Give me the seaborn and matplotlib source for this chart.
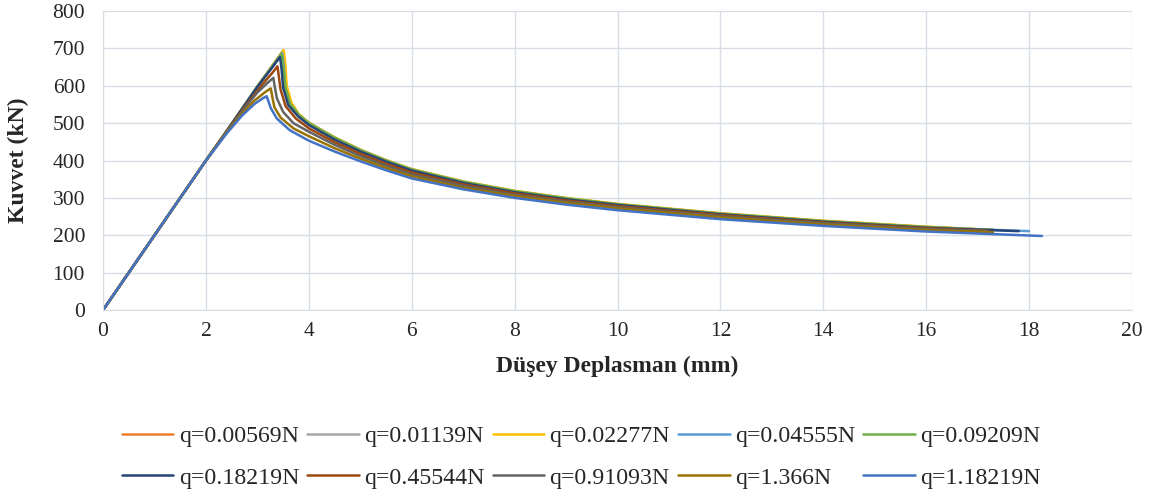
import numpy as np
import pandas as pd
import matplotlib
matplotlib.use("Agg")
import matplotlib.pyplot as plt
import seaborn as sns

labels = ["q=0.00569N", "q=0.01139N", "q=0.02277N", "q=0.04555N", "q=0.09209N",
          "q=0.18219N", "q=0.45544N", "q=0.91093N", "q=1.366N", "q=1.18219N"]
colors = ["#ED7D31", "#A5A5A5", "#FFC000", "#5B9BD5", "#70AD47",
          "#264478", "#9E480E", "#636363", "#997300", "#4472C4"]

x_s1 = [0, 2.0, 2.4, 3.0, 3.3, 3.42, 3.49, 3.52, 3.55, 3.64, 3.8, 4, 4.5, 5, 5.5, 6, 7, 8, 9, 10, 12, 14, 16, 17.3]
y_s1 = [0, 400, 478, 598, 655, 678, 692, 660, 598, 553, 523, 500, 461, 428, 400, 376, 343, 318, 299, 283, 258, 238, 222, 214]
x_s2 = [0, 2.0, 2.4, 3.0, 3.3, 3.43, 3.50, 3.53, 3.56, 3.65, 3.8, 4, 4.5, 5, 5.5, 6, 7, 8, 9, 10, 12, 14, 16, 17.3]
y_s2 = [0, 400, 478, 598, 656, 680, 694, 662, 599, 554, 524, 501, 462, 429, 401, 377, 344, 318, 299, 283, 258, 238, 222, 214]
x_s3 = [0, 2.0, 2.4, 3.0, 3.3, 3.44, 3.51, 3.54, 3.57, 3.66, 3.8, 4, 4.5, 5, 5.5, 6, 7, 8, 9, 10, 12, 14, 16, 17.3]
y_s3 = [0, 400, 478, 598, 656, 682, 696, 664, 600, 555, 525, 501, 462, 429, 401, 377, 344, 319, 300, 284, 259, 239, 223, 214]
x_s4 = [0, 2.0, 2.4, 3.0, 3.3, 3.41, 3.48, 3.51, 3.54, 3.63, 3.8, 4, 4.5, 5, 5.5, 6, 7, 8, 9, 10, 12, 14, 16, 18.0]
y_s4 = [0, 400, 478, 598, 654, 675, 688, 657, 597, 552, 522, 499, 460, 427, 399, 375, 342, 317, 298, 282, 257, 237, 221, 211]
x_s5 = [0, 2.0, 2.4, 3.0, 3.3, 3.40, 3.47, 3.50, 3.54, 3.63, 3.8, 4, 4.5, 5, 5.5, 6, 7, 8, 9, 10, 12, 14, 16, 17.3]
y_s5 = [0, 400, 478, 598, 653, 672, 685, 655, 598, 553, 523, 500, 461, 428, 400, 376, 343, 318, 299, 283, 258, 238, 222, 214]
x_s6 = [0, 2.0, 2.4, 3.0, 3.3, 3.38, 3.44, 3.47, 3.50, 3.60, 3.8, 4, 4.5, 5, 5.5, 6, 7, 8, 9, 10, 12, 14, 16, 17.8]
y_s6 = [0, 400, 478, 597, 651, 666, 677, 645, 595, 548, 517, 495, 456, 424, 397, 373, 340, 315, 296, 281, 256, 236, 220, 211]
x_s7 = [0, 2.0, 2.4, 2.8, 3.1, 3.3, 3.39, 3.42, 3.45, 3.55, 3.75, 4, 4.5, 5, 5.5, 6, 7, 8, 9, 10, 12, 14, 16, 17.2]
y_s7 = [0, 400, 477, 552, 604, 636, 652, 622, 590, 545, 512, 486, 449, 418, 391, 368, 336, 312, 293, 278, 254, 234, 219, 212]
x_s8 = [0, 2.0, 2.4, 2.75, 3.0, 3.2, 3.31, 3.34, 3.38, 3.5, 3.7, 4, 4.5, 5, 5.5, 6, 7, 8, 9, 10, 12, 14, 16, 17.2]
y_s8 = [0, 400, 476, 540, 582, 608, 621, 595, 566, 530, 500, 477, 442, 412, 386, 363, 332, 308, 290, 275, 251, 232, 217, 211]
x_s9 = [0, 2.0, 2.4, 2.75, 2.95, 3.15, 3.26, 3.29, 3.33, 3.45, 3.7, 4, 4.5, 5, 5.5, 6, 7, 8, 9, 10, 12, 14, 16, 17.3]
y_s9 = [0, 400, 474, 533, 561, 583, 593, 570, 543, 515, 486, 465, 433, 405, 380, 358, 327, 305, 287, 272, 248, 229, 214, 208]
x_s10 = [0, 2.0, 2.4, 2.7, 2.95, 3.1, 3.18, 3.21, 3.26, 3.38, 3.63, 4, 4.5, 5, 5.5, 6, 7, 8, 9, 10, 12, 14, 16, 18.25]
y_s10 = [0, 400, 472, 520, 552, 566, 572, 560, 540, 512, 481, 453, 424, 398, 374, 352, 323, 300, 282, 267, 243, 225, 210, 198]

xs = [x_s1, x_s2, x_s3, x_s4, x_s5, x_s6, x_s7, x_s8, x_s9, x_s10]
ys = [y_s1, y_s2, y_s3, y_s4, y_s5, y_s6, y_s7, y_s8, y_s9, y_s10]

frames = []
for lab, xv, yv in zip(labels, xs, ys):
    frames.append(pd.DataFrame({"x": xv, "y": yv, "series": lab}))
df = pd.concat(frames, ignore_index=True)

sns.set_style("white")
plt.rcParams["font.family"] = ["Liberation Serif", "DejaVu Serif"]

fig = plt.figure(figsize=(11.58, 5.0), dpi=100)
ax = fig.add_axes([0.089, 0.38, 0.8885, 0.598])

sns.lineplot(data=df, x="x", y="y", hue="series", hue_order=labels,
             palette=colors, sort=False, estimator=None, units="series",
             linewidth=1.8, ax=ax, legend=True)

ax.set_xlim(0, 20)
ax.set_ylim(0, 800)
ax.set_xticks(range(0, 21, 2))
ax.set_yticks(range(0, 801, 100))
ax.grid(True, color="#D9DEE6", linewidth=1.0)
ax.set_axisbelow(True)
for s in ["top", "right"]:
    ax.spines[s].set_visible(False)
for s in ["left", "bottom"]:
    ax.spines[s].set_color("#D9DEE6")
ax.tick_params(axis="y", labelsize=15.5, length=0, pad=13)
ax.tick_params(axis="x", labelsize=15.5, length=0, pad=9)
ax.set_xlabel("Düşey Deplasman (mm)", fontsize=17, fontweight="bold", labelpad=10)
ax.set_ylabel("Kuvvet (kN)", fontsize=17, fontweight="bold", labelpad=17)

handles, labs = ax.get_legend_handles_labels()
ax.get_legend().remove()
order = [0, 5, 1, 6, 2, 7, 3, 8, 4, 9]
fig.legend([handles[i] for i in order], [labs[i] for i in order],
           loc="center", bbox_to_anchor=(0.502, 0.086), ncol=5,
           frameon=False, fontsize=17.2, handlelength=2.15, columnspacing=0.35,
           handletextpad=0.22, labelspacing=0.82)

fig.savefig("out.png", dpi=100)
